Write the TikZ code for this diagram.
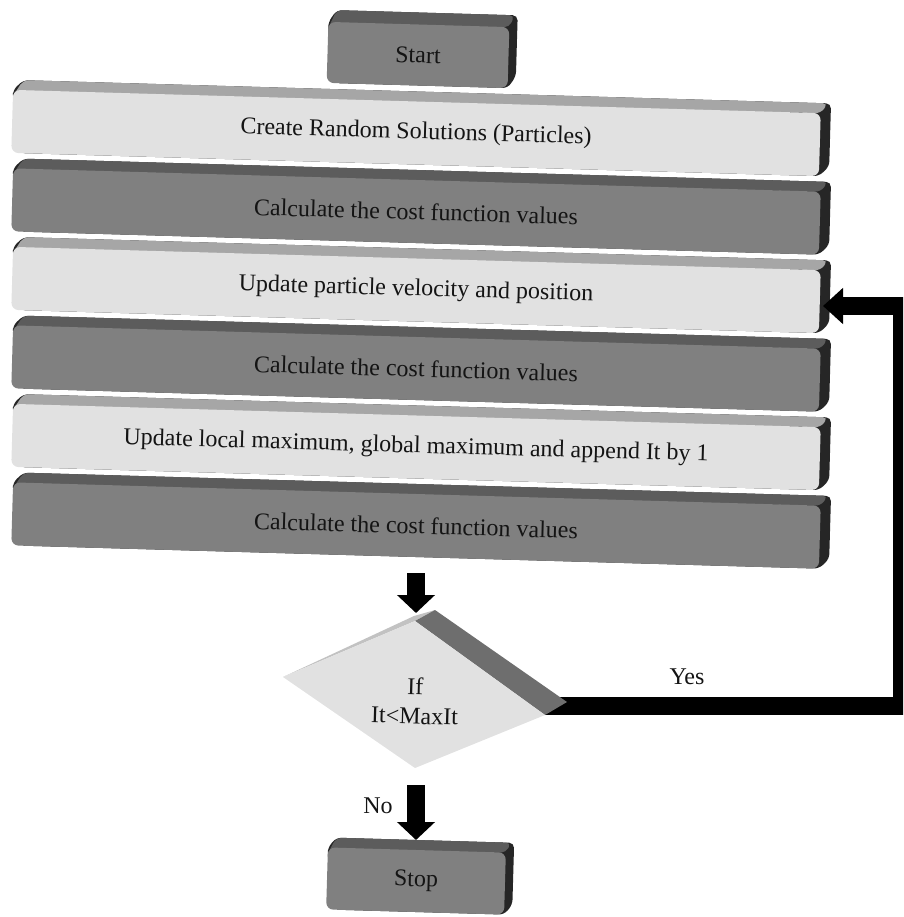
\documentclass[tikz,border=0pt]{standalone}
\usepackage{fontspec}
\setmainfont{Liberation Serif}
\usetikzlibrary{arrows.meta}
\definecolor{lightfront}{HTML}{E1E1E1}
\definecolor{lighttop}{HTML}{A6A6A6}
\definecolor{darkfront}{HTML}{808080}
\definecolor{darktop}{HTML}{5C5C5C}
\definecolor{sidecol}{HTML}{262626}
\definecolor{diatop}{HTML}{C2C2C2}
\definecolor{diaband}{HTML}{6E6E6E}
\definecolor{inkcol}{HTML}{141414}
\tikzset{
  boxface/.style={rounded corners=7pt, inner sep=0pt, text=inkcol,
    font=\fontsize{24}{29}\selectfont},
  lbl/.style={inner sep=0pt, text=inkcol, font=\fontsize{24}{29}\selectfont},
  blockarrow/.style={line width=18pt, draw=black, -{Triangle[width=37pt,length=18pt]}},
  looparrow/.style={line width=18pt, draw=black, -{Triangle[width=35pt,length=20pt]}}
}
% name, cx, cy, half width, half height, dx, dy, kind (light/dark), text
\newcommand{\tdbox}[9]{%
  \begin{scope}[shift={(#2,#3)}, rotate=-1.65, transform shape]
    \fill[sidecol, rounded corners=5pt] (-#4+8,#5) -- (#4,#5) -- (#4+#6,#5-#7)
      -- (#4+#6,-#5-#7) -- (-#4+#6,-#5-#7) -- (-#4,-#5) -- (-#4,-#5+8) -- cycle;
    \fill[#8top, rounded corners=5pt] (-#4,-#5+6) -- (-#4+#6,-#5-#7)
      -- (#4+#6-3,-#5-#7) -- (#4,-#5) -- cycle;
    \node[boxface, fill=#8front, minimum width={2*#4}, minimum height={2*#5}] (#1) at (0,0) {#9};
  \end{scope}}
\begin{document}
\begin{tikzpicture}[x=1pt, y=-1pt]
\useasboundingbox (0,0) rectangle (903,917);
\clip (0,0) rectangle (903,917);

\tdbox{start}{418}{55}{90.5}{30.5}{8}{12}{dark}{Start}
\tdbox{bar1}{416}{133}{404}{31.5}{10}{10}{light}{Create Random Solutions (Particles)}
\tdbox{bar2}{416}{211.5}{404}{31.5}{10}{10}{dark}{Calculate the cost function values}
\tdbox{bar3}{416}{290}{404}{31.5}{10}{10}{light}{Update particle velocity and position}
\tdbox{bar4}{416}{368.5}{404}{31.5}{10}{10}{dark}{Calculate the cost function values}
\tdbox{bar5}{416}{447}{404}{31.5}{10}{10}{light}{Update local maximum, global maximum and append It by 1}
\tdbox{bar6}{416}{525.5}{404}{31.5}{10}{10}{dark}{Calculate the cost function values}

% loop back connector (drawn first, partly hidden by the diamond)
\coordinate (yesstart) at (545,706);
\coordinate (yescorner1) at (902,706);
\coordinate (yescorner2) at (902,306);
\coordinate (yesend) at (823,306);
\draw[looparrow] (yesstart) -- (yescorner1) -- (yescorner2) -- (yesend);

% decision diamond
\fill[diatop] (283,677) -- (414,616) -- (435,610) -- (415,621) -- cycle;
\fill[diaband] (415,621) -- (435,610) -- (567,702) -- (545,715) -- cycle;
\fill[lightfront] (283,677) -- (415,621) -- (545,715) -- (415,768) -- cycle;
\node[lbl, align=center, rotate=-1.65] (dec) at (415,701) {If\\It<MaxIt};

% arrows
\coordinate (a1s) at (416,573);
\coordinate (a1e) at (416,613);
\draw[blockarrow] (a1s) -- (a1e);
\coordinate (a2s) at (416,785);
\coordinate (a2e) at (416,840);
\draw[blockarrow] (a2s) -- (a2e);

\tdbox{stop}{416}{881}{89}{31}{8}{10}{dark}{Stop}

\node[lbl] (yes) at (687,677) {Yes};
\node[lbl] (no) at (378,806) {No};
\end{tikzpicture}
\end{document}
